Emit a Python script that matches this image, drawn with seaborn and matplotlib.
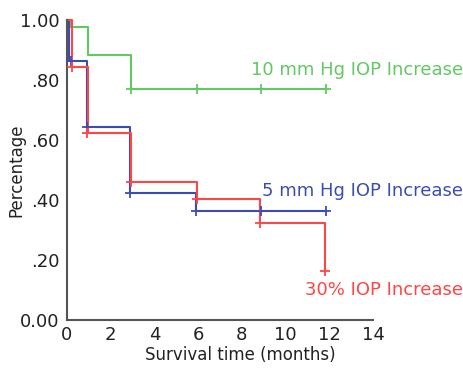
import matplotlib
matplotlib.use("Agg")
import matplotlib.pyplot as plt
import seaborn as sns
import pandas as pd

# Data
groups = ["10 mm Hg IOP Increase", "5 mm Hg IOP Increase", "30% IOP Increase"]
green_t = [0, 0.15, 0.95, 2.95, 11.85]
green_s = [1.0, 0.977, 0.883, 0.77, 0.77]
blue_t = [0, 0.12, 0.92, 2.9, 5.9, 11.85]
blue_s = [1.0, 0.865, 0.645, 0.425, 0.365, 0.365]
red_t = [0, 0.22, 0.97, 2.95, 5.95, 8.85, 11.8]
red_s = [1.0, 0.845, 0.625, 0.46, 0.405, 0.325, 0.165]

green_ct = [2.95, 5.95, 8.9, 11.85]
green_cs = [0.77, 0.77, 0.77, 0.77]
blue_ct = [0.2, 0.9, 2.9, 5.9, 8.9, 11.85]
blue_cs = [0.865, 0.645, 0.425, 0.365, 0.365, 0.365]
red_ct = [0.25, 0.92, 2.95, 5.95, 8.85, 11.8]
red_cs = [0.845, 0.625, 0.46, 0.405, 0.325, 0.165]

x_ticks = [0, 2, 4, 6, 8, 10, 12, 14]
y_ticks = [0.0, 0.2, 0.4, 0.6, 0.8, 1.0]
y_ticklabels = ["0.00", ".20", ".40", ".60", ".80", "1.00"]

colors = {groups[0]: "#62c862", groups[1]: "#3b4db5", groups[2]: "#ff4545"}

curves = pd.concat([
    pd.DataFrame({"t": green_t, "s": green_s, "g": groups[0]}),
    pd.DataFrame({"t": blue_t, "s": blue_s, "g": groups[1]}),
    pd.DataFrame({"t": red_t, "s": red_s, "g": groups[2]}),
], ignore_index=True)
cens = pd.concat([
    pd.DataFrame({"t": green_ct, "s": green_cs, "g": groups[0]}),
    pd.DataFrame({"t": blue_ct, "s": blue_cs, "g": groups[1]}),
    pd.DataFrame({"t": red_ct, "s": red_cs, "g": groups[2]}),
], ignore_index=True)

sns.set_style("white")
plt.rcParams["font.family"] = ["DejaVu Sans"]

fig = plt.figure(figsize=(4.64, 3.73), dpi=100)
ax = fig.add_axes([0.144, 0.142, 0.66, 0.804])

for g in groups:
    d = curves[curves.g == g]
    sns.lineplot(data=d, x="t", y="s", color=colors[g], drawstyle="steps-post",
                 estimator=None, sort=False, lw=1.5, ax=ax, clip_on=False)
    c = cens[cens.g == g]
    sns.scatterplot(data=c, x="t", y="s", color=colors[g], marker="+", s=45,
                    linewidth=1.3, ax=ax, clip_on=False, zorder=3)

ax.set_xlim(0, 14)
ax.set_ylim(0, 1.0)
ax.set_xticks(x_ticks)
ax.set_yticks(y_ticks)
ax.set_yticklabels(y_ticklabels)
ax.tick_params(axis="x", direction="in", length=3, labelsize=13, colors="#333333", pad=4)
ax.tick_params(axis="y", direction="out", length=3, labelsize=13, colors="#333333", pad=2)
for lab in ax.get_xticklabels() + ax.get_yticklabels():
    lab.set_color("#222222")
for s in ["top", "right"]:
    ax.spines[s].set_visible(False)
for s in ["left", "bottom"]:
    ax.spines[s].set_color("#555555")
    ax.spines[s].set_linewidth(1.5)

ax.set_xlabel("Survival time (months)", fontsize=12, color="#222222")
ax.set_ylabel("Percentage", fontsize=12, color="#222222")
ax.xaxis.set_label_coords(0.565, -0.085)
ax.yaxis.set_label_coords(-0.135, 0.5)

ax.text(1.0 + 90 / 306, 0.835, groups[0], transform=ax.transAxes, ha="right", va="center",
        color=colors[groups[0]], fontsize=13)
ax.text(1.0 + 90 / 306, 0.43, groups[1], transform=ax.transAxes, ha="right", va="center",
        color=colors[groups[1]], fontsize=13)
ax.text(1.0 + 90 / 306, 0.10, groups[2], transform=ax.transAxes, ha="right", va="center",
        color=colors[groups[2]], fontsize=13)

fig.savefig("out.png", dpi=100)
